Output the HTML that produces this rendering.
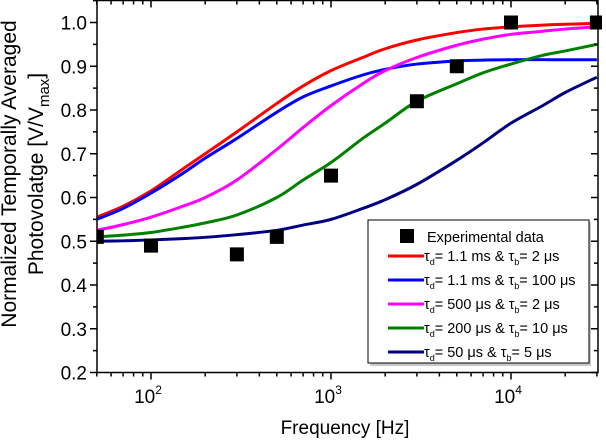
<!DOCTYPE html>
<html><head><meta charset="utf-8"><style>
body{margin:0;background:#fff;}
svg{display:block;font-family:"Liberation Sans",Arial,sans-serif;}
</style></head><body>
<svg id="chart" width="606" height="441" viewBox="0 0 606 441" xmlns="http://www.w3.org/2000/svg">
<defs><clipPath id="clip"><rect x="97" y="0" width="505" height="373"/></clipPath></defs>
<g id="series" clip-path="url(#clip)"></g>
<g id="axes"></g>
<g id="legend"></g>
</svg>
<script>
const expFreq=[50,100,300,500,1000,3000,5000,10000,30000];
const expVals=[0.51,0.49,0.47,0.51,0.65,0.82,0.90,1.0,1.0];
const fitFreq=[50,70,100,150,200,300,500,700,1000,1500,2000,3000,5000,7000,10000,15000,20000,30000];
const redVals=[0.555,0.58,0.615,0.665,0.70,0.75,0.815,0.855,0.89,0.92,0.94,0.96,0.977,0.985,0.99,0.994,0.996,0.998];
const blueVals=[0.55,0.575,0.61,0.655,0.69,0.735,0.795,0.83,0.855,0.88,0.893,0.905,0.912,0.914,0.915,0.915,0.915,0.915];
const magVals=[0.525,0.538,0.555,0.58,0.60,0.64,0.71,0.76,0.81,0.86,0.89,0.92,0.948,0.962,0.973,0.98,0.985,0.99];
const greenVals=[0.51,0.514,0.52,0.532,0.542,0.56,0.60,0.64,0.68,0.735,0.77,0.82,0.86,0.885,0.905,0.925,0.935,0.95];
const navyVals=[0.50,0.501,0.503,0.506,0.509,0.515,0.525,0.537,0.55,0.575,0.595,0.63,0.685,0.725,0.77,0.81,0.84,0.875];
const xTicks=[100,1000,10000];
const xTickExp=["2","3","4"];
const yTicks=[0.2,0.3,0.4,0.5,0.6,0.7,0.8,0.9,1.0];
const seriesNames=["τd= 1.1 ms & τb= 2 μs","τd= 1.1 ms & τb= 100 μs","τd= 500 μs & τb= 2 μs","τd= 200 μs & τb= 10 μs","τd= 50 μs & τb= 5 μs"];
const NS="http://www.w3.org/2000/svg";
function X(f){return 151+180*(Math.log10(f)-2);}
function Y(v){return 372.5-(v-0.2)*437.5;}
function mk(tag,attrs,parent){const e=document.createElementNS(NS,tag);for(const k in attrs)e.setAttribute(k,attrs[k]);parent.appendChild(e);return e;}
const axes=document.getElementById('axes'),series=document.getElementById('series'),legend=document.getElementById('legend');
let fr=mk('rect',{x:97,y:0.5,width:501,height:372,fill:'none',stroke:'#000','stroke-width':1.5},axes);


for(let d=1;d<=4;d++){for(let m=1;m<10;m++){const f=m*Math.pow(10,d);if(f<50||f>30000)continue;const x=X(f);const L=m===1?7:4;
mk('line',{x1:x,x2:x,y1:372.5,y2:372.5+L,stroke:'#000','stroke-width':1.5},axes);
mk('line',{x1:x,x2:x,y1:0.5,y2:0.5+L,stroke:'#000','stroke-width':1.5},axes);}}
xTicks.forEach((f,i)=>{const t=mk('text',{x:X(f)-3,y:403,'font-size':19,'text-anchor':'middle'},axes);t.textContent='10';
const s=mk('tspan',{dy:-9,'font-size':12},t);s.textContent=xTickExp[i];

});
for(let v=0.2;v<=1.051;v+=0.05){const y=Y(v);const major=Math.abs(v*10-Math.round(v*10))<0.01;const L=major?7:4;
mk('line',{x1:97-L,x2:97,y1:y,y2:y,stroke:'#000','stroke-width':1.5},axes);
mk('line',{x1:598-L,x2:598,y1:y,y2:y,stroke:'#000','stroke-width':1.5},axes);}
yTicks.forEach(v=>{const t=mk('text',{x:87,y:Y(v)+7,'font-size':19,'text-anchor':'end'},axes);t.textContent=v.toFixed(1);

});
let xt=mk('text',{x:345,y:434,'font-size':19,'text-anchor':'middle'},axes);xt.textContent='Frequency [Hz]';


let yt=mk('text',{transform:'translate(16,174) rotate(-90)','font-size':21,'text-anchor':'middle'},axes);yt.textContent='Normalized Temporally Averaged';


let yt2=mk('text',{transform:'translate(43,174) rotate(-90)','font-size':21,'text-anchor':'middle'},axes);yt2.textContent='Photovolatge [V/V';
const sb=mk('tspan',{dy:6,'font-size':15},yt2);sb.textContent='max';const sb2=mk('tspan',{dy:-6},yt2);sb2.textContent=']';


function pathFor(vals){const p=fitFreq.map((f,i)=>[X(f),Y(vals[i])]);let d='M'+p[0][0]+','+p[0][1];
for(let i=0;i<p.length-1;i++){const p0=p[Math.max(0,i-1)],p1=p[i],p2=p[i+1],p3=p[Math.min(p.length-1,i+2)];
d+=' C'+(p1[0]+(p2[0]-p0[0])/6)+','+(p1[1]+(p2[1]-p0[1])/6)+' '+(p2[0]-(p3[0]-p1[0])/6)+','+(p2[1]-(p3[1]-p1[1])/6)+' '+p2[0]+','+p2[1];}return d;}
const colors=['#ff0000','#0000ff','#ff00ff','#008000','#000080'];
const allVals=[redVals,blueVals,magVals,greenVals,navyVals];
const cnames=['red-fit-line','blue-fit-line','magenta-fit-line','green-fit-line','navy-fit-line'];
allVals.forEach((vals,i)=>{const p=mk('path',{d:pathFor(vals),fill:'none',stroke:colors[i],'stroke-width':3},series);

});
expFreq.forEach((f,i)=>{const r=mk('rect',{x:X(f)-7,y:Y(expVals[i])-7,width:14,height:14,fill:'#000'},series);

});
mk('rect',{x:370,y:222,width:221,height:144,fill:'#c8c8c8'},legend);
let lb=mk('rect',{x:368,y:220,width:221,height:143,fill:'#fff',stroke:'#000','stroke-width':1},legend);


mk('rect',{x:400,y:229,width:14,height:14,fill:'#000'},legend);
let et=mk('text',{x:427,y:242,'font-size':14.5},legend);et.textContent='Experimental data';


seriesNames.forEach((n,i)=>{const y=256+i*24;
mk('line',{x1:388,x2:424,y1:y,y2:y,stroke:colors[i],'stroke-width':3},legend);
const t=mk('text',{x:424,y:y+5,'font-size':14.5},legend);
const parts=n.split(/τ([db])/);
const a=mk('tspan',{},t);a.textContent='τ';
const s1=mk('tspan',{dy:4,'font-size':9},t);s1.textContent=parts[1];
const b=mk('tspan',{dy:-4},t);b.textContent=parts[2]+'τ';
const s2=mk('tspan',{dy:4,'font-size':9},t);s2.textContent=parts[3];
const c=mk('tspan',{dy:-4},t);c.textContent=parts[4];

});
</script>
</body></html>
